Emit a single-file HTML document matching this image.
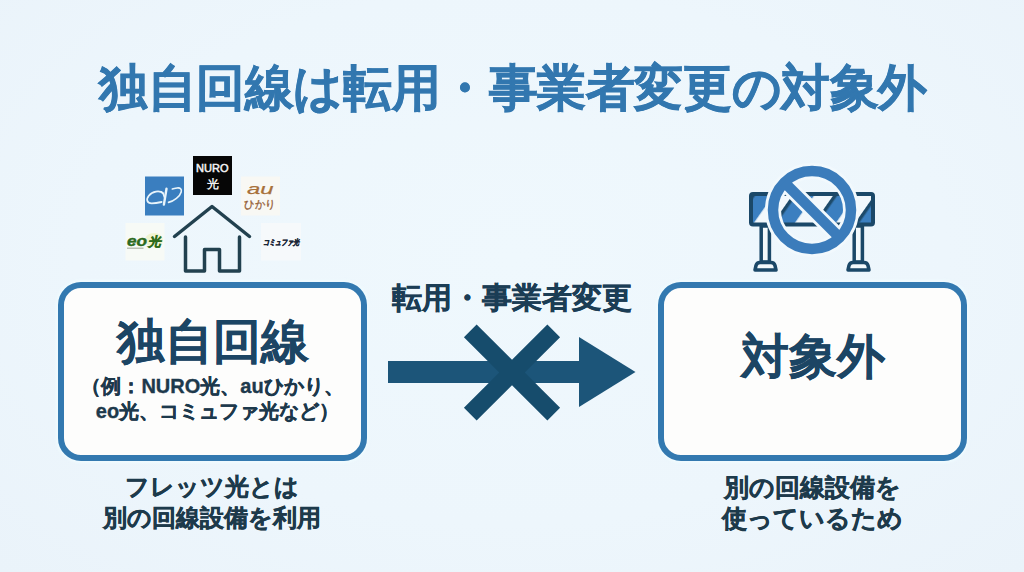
<!DOCTYPE html>
<html lang="ja">
<head>
<meta charset="utf-8">
<style>
html,body{margin:0;padding:0;}
body{width:1024px;height:572px;overflow:hidden;position:relative;
  background:radial-gradient(ellipse at 50% 45%,#eff8fd 0%,#edf6fc 60%,#eaf3fa 100%);
  font-family:"Liberation Sans",sans-serif;font-weight:bold;}
.t{position:absolute;white-space:nowrap;line-height:1;text-align:center;}
#title{left:1px;width:1024px;top:63px;font-size:48.6px;letter-spacing:-0.44px;color:#3277af;-webkit-text-stroke:0.7px #3277af;transform:scaleY(1.025);transform-origin:50% 0;}
.box{position:absolute;box-sizing:border-box;border:6px solid #3379b0;border-radius:23px;background:#fdfdfc;box-shadow:0 0 3px 2px rgba(240,252,255,0.9);}
#lbox{left:58px;top:282px;width:309px;height:179px;}
#rbox{left:658px;top:282px;width:309px;height:179px;}
#lt{left:58px;width:309px;top:318px;font-size:47.5px;color:#1c4564;-webkit-text-stroke:0.3px #1c4564;}
#ls1,#ls2{left:58px;width:309px;font-size:20px;line-height:25px;color:#1d394c;-webkit-text-stroke:0.35px #1d394c;}
#ls1{top:374px;}
#ls2{top:399px;left:63px;}
#at{left:312px;width:400px;top:283px;font-size:30px;color:#1b3d55;-webkit-text-stroke:0.4px #1b3d55;}
#rt{left:658px;width:309px;top:332.5px;font-size:47.5px;color:#1c4564;-webkit-text-stroke:0.3px #1c4564;}
#lb{left:12px;width:400px;top:472px;font-size:24px;line-height:30.5px;color:#1d3a4b;-webkit-text-stroke:0.45px #1d3a4b;}
#rb{left:612px;width:400px;top:472px;font-size:24.5px;line-height:31px;color:#1d3a4b;-webkit-text-stroke:0.45px #1d3a4b;}
svg{position:absolute;left:0;top:0;}
</style>
</head>
<body>
<svg width="1024" height="572" viewBox="0 0 1024 572">
  <!-- house -->
  <g fill="none" stroke="#22414f" stroke-width="3.5" stroke-linecap="round" stroke-linejoin="round">
    <polyline points="174.5,236.5 212,206.5 249.5,236.5"/>
    <polyline points="185.5,237 185.5,271 204.5,271 204.5,249.5 219.5,249.5 219.5,271 239.5,271 239.5,237"/>
  </g>
  <!-- NURO -->
  <rect x="193" y="156" width="39" height="39" fill="#060606"/>
  <text x="196" y="172.3" font-size="10.8" fill="#f2f2f2" font-family="Liberation Sans" font-weight="normal" stroke="#f2f2f2" stroke-width="0.5" textLength="32.5" lengthAdjust="spacingAndGlyphs">NURO</text>
  <text x="212.5" y="188" font-size="11.5" fill="#f2f2f2" text-anchor="middle" font-weight="bold">光</text>
  <!-- blue logo -->
  <rect x="145" y="176.5" width="39" height="39" fill="#3a7ebf"/>
  <g fill="none" stroke="#e8f4fb" stroke-linecap="round">
    <path d="M163.2,193.2 C159.5,190.2 152.5,191.2 148.8,195.8 C145.6,199.8 147.4,203.4 151.8,203.3 C155.4,203.2 158.6,202.6 161.6,202" stroke-width="1.8"/>
    <path d="M161.5,191.8 C163,193 164,195 164.2,197" stroke-width="1.4"/>
    <path d="M166.5,188.8 L163.9,204.6" stroke-width="2.4"/>
    <path d="M168.5,202.4 C174,201 180,196.5 181.2,192 C182,189 180,187.5 177,188 C175,188.3 173.5,188.6 172.3,189" stroke-width="1.6"/>
  </g>
  <!-- au -->
  <rect x="241" y="176.5" width="39" height="39" fill="#f8f8f4"/>
  <text x="247" y="193.5" font-size="15.5" fill="#a8703a" font-family="Liberation Sans" font-style="italic" font-weight="normal" textLength="26.5" lengthAdjust="spacingAndGlyphs" stroke="#a8703a" stroke-width="0.25">au</text>
  <text x="244.2" y="208" font-size="11" fill="#96623a" textLength="31" lengthAdjust="spacingAndGlyphs" font-weight="normal" stroke="#96623a" stroke-width="0.35">ひかり</text>
  <!-- eo -->
  <rect x="125.5" y="223" width="39" height="37.5" fill="#f7faf6"/>
  <ellipse cx="154" cy="240" rx="9" ry="7" fill="#eef3c8" opacity="0.8"/>
  <text x="127" y="245.6" font-size="14" fill="#2d6a1e" font-family="Liberation Sans" font-style="italic" font-weight="bold" textLength="20" lengthAdjust="spacingAndGlyphs" stroke="#2d6a1e" stroke-width="0.4">eo</text>
  <text x="0" y="0" font-size="13" fill="#2f6c1c" font-weight="bold" stroke="#2f6c1c" stroke-width="0.4" transform="translate(148,245.6) skewX(-12)">光</text>
  <rect x="127" y="247.6" width="16.5" height="1.2" fill="#9aa090" opacity="0.8"/>
  <!-- commufa -->
  <rect x="261" y="223" width="40" height="37.5" fill="#f6f9fb"/>
  <text x="0" y="0" font-size="8" fill="#1b2636" font-weight="bold" stroke="#1b2636" stroke-width="0.45" transform="translate(262.5,245.3) skewX(-14)" textLength="36" lengthAdjust="spacingAndGlyphs">コミュファ光</text>

  <!-- barrier -->
  <defs>
    <pattern id="stripes" patternUnits="userSpaceOnUse" width="33.6" height="60" patternTransform="translate(782,210) rotate(35)">
      <rect x="0" y="0" width="33.6" height="60" fill="#f2f8fc"/>
      <rect x="0" y="0" width="18" height="60" fill="#3b7fc0"/>
      <rect x="0" y="0" width="3.4" height="60" fill="#1d4a6a"/>
    </pattern>
  </defs>
  <g stroke="#1b4868" stroke-width="3.5" fill="#f3f9fc" stroke-linejoin="round">
    <rect x="761.2" y="226" width="8.2" height="36"/>
    <rect x="854.2" y="226" width="8.2" height="36"/>
    <path d="M755,270 L756,265.5 Q756.8,262.5 760,262.5 L771,262.5 Q774.2,262.5 775,265.5 L776,270 Z"/>
    <path d="M848,270 L849,265.5 Q849.8,262.5 853,262.5 L864,262.5 Q867.2,262.5 868,265.5 L869,270 Z"/>
  </g>
  <rect x="751" y="194" width="122" height="30.5" rx="2" fill="url(#stripes)" stroke="#1b4868" stroke-width="4"/>
  <g fill="none">
    <circle cx="812" cy="210" r="39" stroke="#f2f9fd" stroke-width="16"/>
    <line x1="785" y1="183" x2="839" y2="237" stroke="#f2f9fd" stroke-width="16"/>
    <circle cx="812" cy="210" r="39" stroke="#3b7cbb" stroke-width="10.5"/>
    <line x1="784" y1="182" x2="840" y2="238" stroke="#3b7cbb" stroke-width="10.5"/>
  </g>

  <!-- arrow -->
  <g fill="#1c5579">
    <rect x="388" y="361" width="195" height="22"/>
    <polygon points="579,337 635.5,372 579,407"/>
  </g>
  <polygon fill="#164c6c" points="547.36,324.42 560.08,337.14 524.73,372.50 560.08,407.86 547.36,420.58 512.00,385.23 476.64,420.58 463.92,407.86 499.27,372.50 463.92,337.14 476.64,324.42 512.00,359.77"/>
</svg>

<div id="title" class="t">独自回線は転用・事業者変更の対象外</div>
<div id="lbox" class="box"></div>
<div id="rbox" class="box"></div>
<div id="lt" class="t">独自回線</div>
<div id="ls1" class="t">（例：NURO光、auひかり、</div>
<div id="ls2" class="t">eo光、コミュファ光など）</div>
<div id="at" class="t">転用・事業者変更</div>
<div id="rt" class="t">対象外</div>
<div id="lb" class="t">フレッツ光とは<br>別の回線設備を利用</div>
<div id="rb" class="t">別の回線設備を<br>使っているため</div>
</body>
</html>
